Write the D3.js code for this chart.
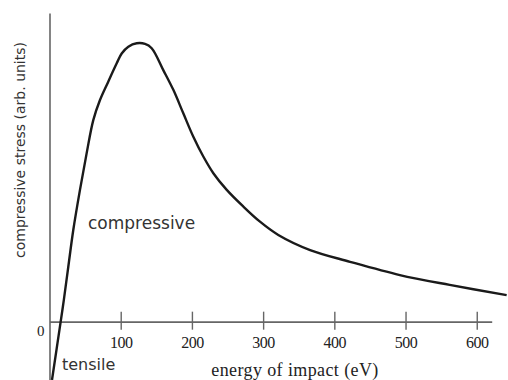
<!DOCTYPE html>
<html>
<head>
<meta charset="utf-8">
<script src="https://cdn.jsdelivr.net/npm/d3@7"></script>
<style>
  html, body { margin: 0; padding: 0; background: #fff; }
  svg { display: block; }
</style>
</head>
<body>
<figure id="chart" style="margin:0"></figure>
<script>
// energy of impact (eV) and compressive stress (arb. units)
const energy = [3.5, 15.7, 20.1, 26.4, 33.4, 42.8, 52.2, 61.5, 70.9, 82.2, 94.4, 101.4, 110.7, 122.5, 134.1, 143.5,
  159.8, 173.9, 187.9, 202, 216, 230.1, 248.9, 272.2, 295.6, 321.3, 366, 422, 492, 562, 642];
const stress = [-18.9, 0, 7.0, 17.8, 29.7, 42.7, 54.6, 65.3, 71.8, 77.6, 83.7, 86.9, 89.1, 90.2, 90.0, 88.6,
  81.5, 75.1, 67.5, 59.9, 53.5, 48.1, 42.7, 37.3, 32.4, 28.1, 23.2, 19.4, 15.1, 11.9, 8.6];
const xTicks = [100, 200, 300, 400, 500, 600];
const yTicks = [0];

const width = 508;
const height = 380;

const svg = d3.select('#chart')
  .append('svg')
  .attr('width', width)
  .attr('height', height);

const x = d3.scaleLinear().domain([0, 621]).range([49.5, 491.7]);
const y = d3.scaleLinear().domain([-18.9, 100]).range([380, 13]);

const axisColor = '#666';
const serif = '"Liberation Serif", "DejaVu Serif", serif';
const sans = '"DejaVu Sans", "Liberation Sans", sans-serif';

// x axis along the zero line, ticks crossing it
const gx = svg.append('g')
  .attr('transform', `translate(0, ${y(0)})`)
  .call(d3.axisBottom(x).tickValues(xTicks).tickSizeInner(0).tickSizeOuter(0).tickPadding(0).tickFormat(d3.format('d')));
gx.select('.domain').attr('stroke', axisColor).attr('stroke-width', 1.6);
gx.selectAll('.tick line')
  .attr('y1', -10).attr('y2', 8)
  .attr('stroke', axisColor).attr('stroke-width', 1.4);
gx.selectAll('.tick text')
  .attr('y', 26).attr('dy', null)
  .attr('fill', '#222')
  .style('font', `16px ${serif}`)
  .style('letter-spacing', '-0.5px');

// y axis, only the 0 label
const gy = svg.append('g')
  .attr('transform', `translate(${x(0)}, 0)`)
  .call(d3.axisLeft(y).tickValues(yTicks).tickSize(0).tickPadding(5).tickFormat(d3.format('d')));
gy.select('.domain').attr('stroke', axisColor).attr('stroke-width', 1.6);
gy.selectAll('.tick text')
  .attr('dy', '0.95em')
  .attr('fill', '#222')
  .style('font', `15px ${serif}`);

// curve
const line = d3.line()
  .x((d, i) => x(energy[i]))
  .y((d) => y(d))
  .curve(d3.curveCatmullRom.alpha(0.5));

svg.append('path')
  .datum(stress)
  .attr('fill', 'none')
  .attr('stroke', '#1a1a1a')
  .attr('stroke-width', 2.4)
  .attr('stroke-linejoin', 'round')
  .attr('d', line);

// labels
svg.append('text')
  .attr('x', 88).attr('y', 229)
  .attr('fill', '#333')
  .style('font', `17px ${sans}`)
  .text('compressive');

svg.append('text')
  .attr('x', 62).attr('y', 370)
  .attr('fill', '#333')
  .style('font', `16px ${sans}`)
  .text('tensile');

svg.append('text')
  .attr('x', 295).attr('y', 376)
  .attr('text-anchor', 'middle')
  .attr('fill', '#222')
  .style('font', `18px ${serif}`)
  .style('letter-spacing', '0.4px')
  .text('energy of impact (eV)');

svg.append('text')
  .attr('transform', 'translate(25, 150) rotate(-90)')
  .attr('text-anchor', 'middle')
  .attr('fill', '#333')
  .style('font', `14px ${sans}`)
  .text('compressive stress (arb. units)');
</script>
</body>
</html>
